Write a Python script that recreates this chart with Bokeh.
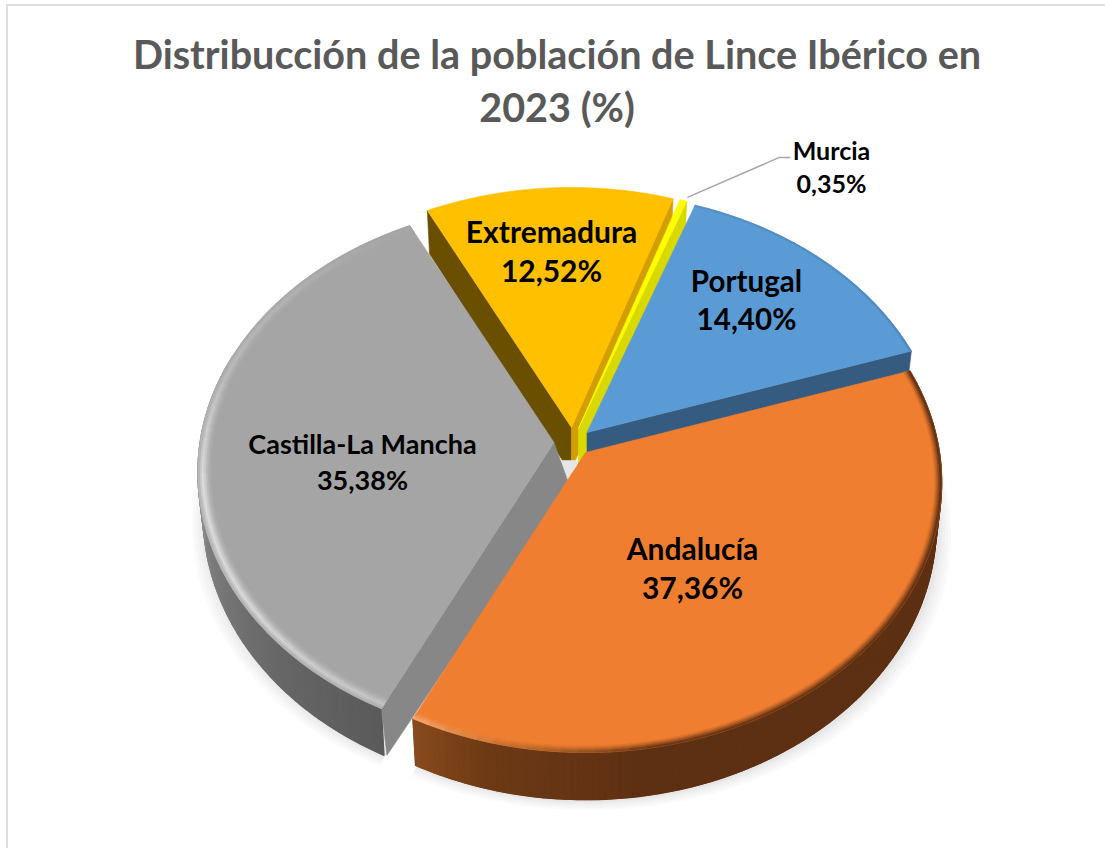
import math
from bokeh.plotting import figure
from bokeh.models import Title
from bokeh.core.properties import value
from bokeh.embed import file_html
from bokeh.resources import INLINE

# ---- data ----
categories = ["Portugal", "Andalucía", "Castilla-La Mancha", "Extremadura", "Murcia"]
percentages = [14.40, 37.36, 35.38, 12.52, 0.35]
title_line_1 = "Distribucción de la población de Lince Ibérico en"
title_line_2 = "2023 (%)"
first_slice_angle = 19.7

# ---- style / layout ----
top_colors = ["#5b9bd5", "#f07e31", "#a5a5a5", "#ffc000", "#ffff00"]
start_wall = ["#4a7fb0", "#9a5522", "#7a7a7a", "#6a4f00", "#d9d900"]
end_wall = ["#355c80", "#5e3013", "#878787", "#d39f00", "#d9d900"]
apex = {"Portugal": (586.5, 432), "Andalucía": (585, 452), "Castilla-La Mancha": (553.5, 442),
        "Extremadura": (571, 427), "Murcia": (578, 428)}
label_pos = {"Portugal": (746, 299, 29.6), "Andalucía": (692, 567, 30),
             "Castilla-La Mancha": (362, 461, 27), "Extremadura": (551, 250, 30),
             "Murcia": (831, 166, 25)}
RX, RY, K, DEPTH = 354.0, 266.7, 0.111, 42.0
TOP_SPACE = 128
FRAME_TOP = 134
FRAME_W, FRAME_H = 1097, 714


def proj(c, theta, r=1.0):
    t = math.radians(theta)
    u, v = r * math.sin(t), r * math.cos(t)
    f = 1 / (1 + K * v)
    return c[0] + RX * u * f, c[1] - RY * v * f, f


def drop(c, theta, r=1.0):
    x, y, f = proj(c, theta, r)
    return c[0] + (x - c[0]) * 0.985, y + DEPTH * f


def hexrgb(h):
    return tuple(int(h[i:i + 2], 16) for i in (1, 3, 5))


def mix(a, b, w):
    ra, rb = hexrgb(a), hexrgb(b)
    return "#%02x%02x%02x" % tuple(round(x + (y - x) * w) for x, y in zip(ra, rb))


def ramp(stops, t):
    if t <= stops[0][0]:
        return stops[0][1]
    for (a, ca), (b, cb) in zip(stops, stops[1:]):
        if t <= b:
            return mix(ca, cb, (t - a) / (b - a))
    return stops[-1][1]


def frange(a, b, step=1.5):
    n = max(1, int(math.ceil((b - a) / step)))
    return [a + (b - a) * i / n for i in range(n + 1)]


p = figure(frame_width=FRAME_W, frame_height=FRAME_H, output_backend="svg", toolbar_location=None,
           x_range=(8, 8 + FRAME_W), y_range=(FRAME_TOP + FRAME_H, FRAME_TOP),
           min_border=0, min_border_top=TOP_SPACE, outline_line_color=None,
           background_fill_color="white", border_fill_color="white")
p.xaxis.visible = False
p.yaxis.visible = False
p.grid.visible = False
for line, stand in ((title_line_2, 9), (title_line_1, 0)):
    p.add_layout(Title(text=line, align="center", text_font="Lato", text_font_style="bold",
                       text_font_size="39.6px", text_color="#595959", standoff=stand), "above")
p.margin = (4, 0, 0, 6)
p.styles = {"border-left": "2px solid #dedede", "border-top": "2px solid #dedede"}

# angular extents from the values
spans = {}
a = first_slice_angle
for name, val in zip(categories, percentages):
    b = a + val * 3.6
    spans[name] = (a, b)
    a = b


def patch(xs, ys, color, alpha=1.0, lw=0.6):
    p.patch(xs, ys, fill_color=color, line_color=color if alpha == 1.0 else None,
            line_width=lw, fill_alpha=alpha)


# soft shadow below the front slices
for name in ("Andalucía", "Castilla-La Mancha"):
    c = apex[name]
    s, e = spans[name]
    for grow in (13, 10, 7, 4, 2):
        pts = [drop(c, t) for t in frange(s, e, 4)]
        xs = [c[0]] + [c[0] + (x - c[0]) * (1 + grow / 350) + 2 for x, y in pts]
        ys = [c[1]] + [y + grow * 0.75 + 1 for x, y in pts]
        patch(xs, ys, "#000000", 0.018)

wall_ramps = {
    "Andalucía": [(70, "#5e3013"), (172, "#5e3013"), (195, "#6e3a15"), (207, "#8b4c1f")],
    "Castilla-La Mancha": [(206, "#5a5a5a"), (225, "#666666"), (250, "#7c7c7c"),
                           (270, "#989898"), (295, "#a8a8a8")],
}
rim_ramps = {
    "Andalucía": [(70, "#5e3013"), (170, "#6b3714"), (192, "#c9722f"), (207, "#f9ab72")],
    "Castilla-La Mancha": [(206, "#c4c4c4"), (235, "#d8d8d8"), (262, "#dcdcdc"),
                           (285, "#bcbcbc"), (334, "#a5a5a5")],
    "Portugal": [(20, "#4a7fb0"), (72, "#3f6f9c")],
}
grey_rings = [(0.965, 0.972, 0.15), (0.972, 0.978, 0.4), (0.978, 0.984, 0.75),
              (0.984, 0.99, 1.0), (0.99, 0.995, 0.7), (0.995, 1.0, 0.35)]
orange_rings = [(0.98, 0.985, 0.15), (0.985, 0.99, 0.4), (0.99, 0.995, 0.7), (0.995, 1.0, 1.0)]
thin_rings = [(0.994, 1.0, 0.4)]


def slice_poly(name, r=1.0):
    c = apex[name]
    s, e = spans[name]
    pts = [proj(c, t, r) for t in frange(s, e)]
    return [c[0]] + [q[0] for q in pts], [c[1]] + [q[1] for q in pts]


def radial_wall(name, theta, color, inner_shift=0, outer_shift=0, extra=0):
    c = apex[name]
    x1, y1, _ = proj(c, theta)
    x2, y2 = drop(c, theta)
    patch([c[0], x1, x2 + outer_shift, c[0] + inner_shift],
          [c[1], y1, y2 + extra, c[1] + DEPTH + extra], color)


def outer_wall(name):
    c = apex[name]
    s, e = spans[name]
    seq = [t for t in frange(s, e, 1.0) if math.cos(math.radians(t)) <= 0.35]
    # one solid piece under the shaded strips, so that no seams show between them
    tops = [proj(c, t) for t in seq]
    bots = [drop(c, t) for t in seq]
    mid = ramp(wall_ramps[name], sum(seq) / len(seq))
    patch([q[0] for q in tops] + [q[0] for q in bots[::-1]],
          [q[1] for q in tops] + [q[1] for q in bots[::-1]], mid)
    for t0, t1 in zip(seq, seq[1:]):
        a0, a1 = proj(c, t0), proj(c, t1)
        b0, b1 = drop(c, t0), drop(c, t1)
        col = ramp(wall_ramps[name], (t0 + t1) / 2)
        patch([a0[0], a1[0], b1[0], b0[0]], [a0[1], a1[1], b1[1], b0[1]], col, lw=1.2)


def rim(name, rings, base):
    c = apex[name]
    s, e = spans[name]
    seq = frange(s, e, 2.5)
    for r0, r1, w in rings:
        for t0, t1 in zip(seq, seq[1:]):
            a0, a1 = proj(c, t0, r1), proj(c, t1, r1)
            b0, b1 = proj(c, t0, r0), proj(c, t1, r0)
            col = mix(base, ramp(rim_ramps[name], (t0 + t1) / 2), w)
            patch([a0[0], a1[0], b1[0], b0[0]], [a0[1], a1[1], b1[1], b0[1]], col)


idx = {n: i for i, n in enumerate(categories)}

# Extremadura (furthest back)
n = "Extremadura"
radial_wall(n, spans[n][0], start_wall[idx[n]], extra=5)
radial_wall(n, spans[n][1], end_wall[idx[n]])
patch(*slice_poly(n), top_colors[idx[n]])

# Murcia
n = "Murcia"
radial_wall(n, spans[n][1], end_wall[idx[n]])
patch(*slice_poly(n), top_colors[idx[n]])

# Portugal
n = "Portugal"
radial_wall(n, spans[n][1], end_wall[idx[n]])
patch(*slice_poly(n), top_colors[idx[n]])
rim(n, thin_rings, top_colors[idx[n]])

# light wedge visible behind the centre, between the separated slices
c = apex["Castilla-La Mancha"]
patch([c[0], c[0] + 24, c[0] + 11, c[0]], [c[1] + 18, c[1] + 18, c[1] + 44, c[1] + 44], "#e6e6e6")

# Castilla-La Mancha
n = "Castilla-La Mancha"
outer_wall(n)
radial_wall(n, spans[n][0], end_wall[idx[n]], inner_shift=15, outer_shift=3)
patch(*slice_poly(n), top_colors[idx[n]])
rim(n, grey_rings, top_colors[idx[n]])

# Andalucía
n = "Andalucía"
outer_wall(n)
patch(*slice_poly(n), top_colors[idx[n]])
rim(n, orange_rings, top_colors[idx[n]])

# leader line for Murcia
c = apex["Murcia"]
mx, my, _ = proj(c, sum(spans["Murcia"]) / 2)
p.line([mx + 4, mx + 96, mx + 107], [my - 3, my - 43, my - 43], line_color="#a6a6a6", line_width=1.5)

# labels
for name, val in zip(categories, percentages):
    lx, ly, size = label_pos[name]
    txt = name + "\n" + f"{val:.2f}".replace(".", ",") + "%"
    p.text([lx], [ly], text=[txt], text_font=value("Lato"), text_font_style="bold",
           text_font_size=f"{size}px", text_color="#000000", text_align="center",
           text_baseline="middle", text_line_height=1.08)

open("out.html", "w").write(file_html(p, INLINE))
